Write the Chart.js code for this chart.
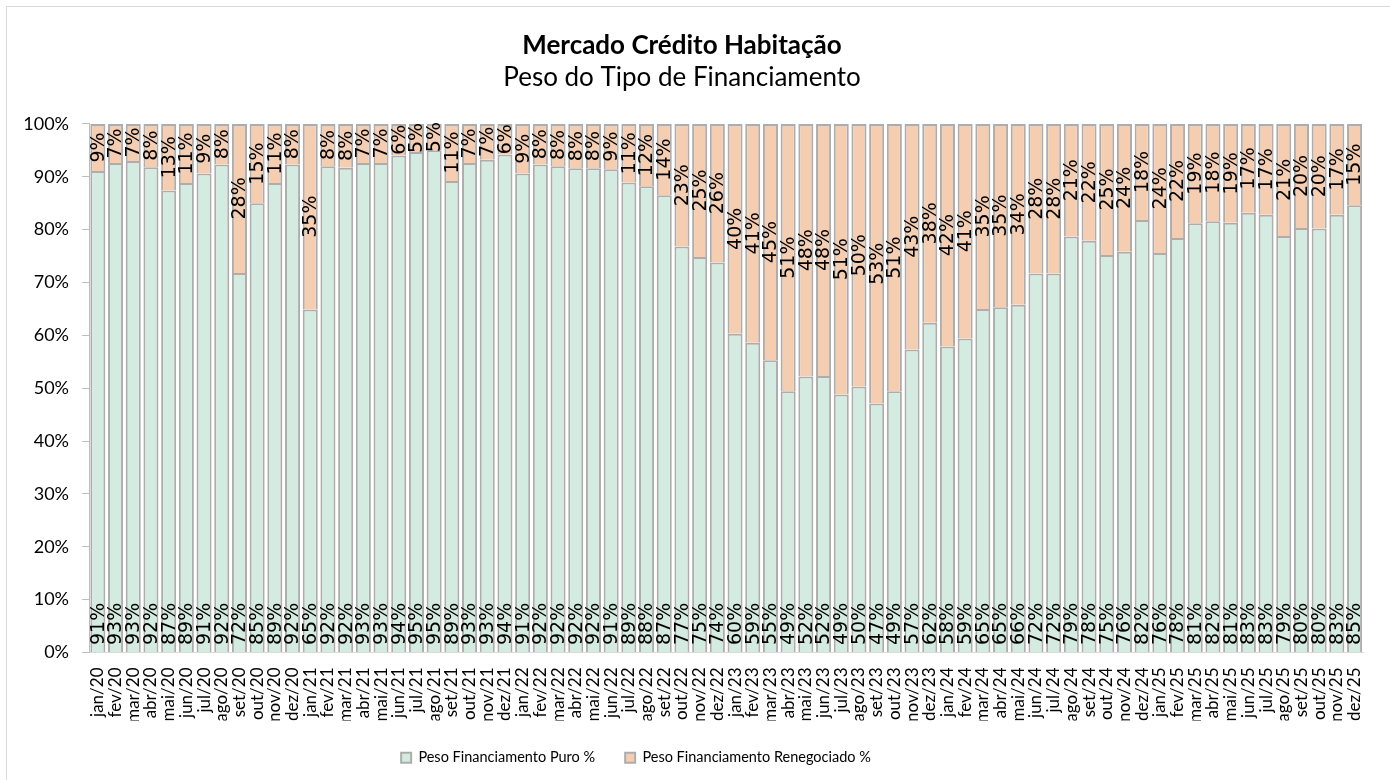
<!DOCTYPE html>
<html>
<head>
<meta charset="utf-8">
<title>Mercado Crédito Habitação</title>
<script src="https://cdn.jsdelivr.net/npm/chart.js@4.4.1/dist/chart.umd.min.js"></script>
<style>
  html, body { margin: 0; padding: 0; background: #fff; }
  #wrap { position: relative; width: 1390px; height: 780px; }
</style>
</head>
<body>
<div id="wrap"><canvas id="myChart" width="1390" height="780"></canvas></div>
<script>
// Months shown on the x axis
const months = [
    'jan/20', 'fev/20', 'mar/20', 'abr/20', 'mai/20', 'jun/20', 'jul/20', 'ago/20', 'set/20', 'out/20', 'nov/20', 'dez/20',
    'jan/21', 'fev/21', 'mar/21', 'abr/21', 'mai/21', 'jun/21', 'jul/21', 'ago/21', 'set/21', 'out/21', 'nov/21', 'dez/21',
    'jan/22', 'fev/22', 'mar/22', 'abr/22', 'mai/22', 'jun/22', 'jul/22', 'ago/22', 'set/22', 'out/22', 'nov/22', 'dez/22',
    'jan/23', 'fev/23', 'mar/23', 'abr/23', 'mai/23', 'jun/23', 'jul/23', 'ago/23', 'set/23', 'out/23', 'nov/23', 'dez/23',
    'jan/24', 'fev/24', 'mar/24', 'abr/24', 'mai/24', 'jun/24', 'jul/24', 'ago/24', 'set/24', 'out/24', 'nov/24', 'dez/24',
    'jan/25', 'fev/25', 'mar/25', 'abr/25', 'mai/25', 'jun/25', 'jul/25', 'ago/25', 'set/25', 'out/25', 'nov/25', 'dez/25'
];

// Peso Financiamento Puro %
const puro = [
    91.1, 92.6, 93.0, 91.8, 87.4, 88.8, 90.6, 92.3, 71.8, 85.0, 88.8, 92.3,
    64.9, 92.0, 91.7, 92.6, 92.6, 94.0, 94.7, 95.0, 89.2, 92.6, 93.2, 94.2,
    90.6, 92.3, 92.0, 91.6, 91.6, 91.4, 88.9, 88.2, 86.5, 76.8, 74.8, 73.8,
    60.3, 58.6, 55.3, 49.4, 52.2, 52.3, 48.8, 50.3, 47.1, 49.4, 57.3, 62.4,
    57.9, 59.4, 65.0, 65.3, 65.8, 71.7, 71.7, 78.7, 77.9, 75.2, 75.8, 81.8,
    75.6, 78.4, 81.2, 81.6, 81.3, 83.2, 82.8, 78.8, 80.3, 80.2, 82.8, 84.6
];

// Peso Financiamento Renegociado %
const renegociado = [
    8.9, 7.4, 7.0, 8.2, 12.6, 11.2, 9.4, 7.7, 28.2, 15.0, 11.2, 7.7,
    35.1, 8.0, 8.3, 7.4, 7.4, 6.0, 5.3, 5.0, 10.8, 7.4, 6.8, 5.8,
    9.4, 7.7, 8.0, 8.4, 8.4, 8.6, 11.1, 11.8, 13.5, 23.2, 25.2, 26.2,
    39.7, 41.4, 44.7, 50.6, 47.8, 47.7, 51.2, 49.7, 52.9, 50.6, 42.7, 37.6,
    42.1, 40.6, 35.0, 34.7, 34.2, 28.3, 28.3, 21.3, 22.1, 24.8, 24.2, 18.2,
    24.4, 21.6, 18.8, 18.4, 18.7, 16.8, 17.2, 21.2, 19.7, 19.8, 17.2, 15.4
];

// Y axis ticks
const yTicks = [0, 10, 20, 30, 40, 50, 60, 70, 80, 90, 100];

const textFont = 'Lato';
const labelFont = '19px "DejaVu Sans"';

// Draws the rotated percentage labels inside the bars
const barLabels = {
    id: 'barLabels',
    afterDatasetsDraw(chart) {
        const ctx = chart.ctx;
        ctx.save();
        ctx.font = labelFont;
        ctx.fillStyle = '#000';
        chart.data.datasets.forEach((ds, di) => {
            const meta = chart.getDatasetMeta(di);
            meta.data.forEach((bar, i) => {
                const txt = Math.round(ds.data[i]) + '%';
                ctx.save();
                if (di === 0) {
                    // inside base
                    ctx.translate(bar.x, bar.base - 7);
                    ctx.textAlign = 'left';
                } else {
                    // centered in the segment
                    ctx.translate(bar.x, (bar.y + bar.base) / 2);
                    ctx.textAlign = 'center';
                }
                ctx.rotate(-Math.PI / 2);
                ctx.textBaseline = 'middle';
                ctx.fillText(txt, 0, 1);
                ctx.restore();
            });
        });
        ctx.restore();
    }
};

// Light frame around the chart; titles and legend nudged left like the original
const frame = {
    id: 'frame',
    afterLayout(chart) {
        chart.boxes.forEach(box => {
            if (box === chart.legend) {
                box.right -= 112;
            } else if (box.options && box.options.text !== undefined && box.position === 'top') {
                box.left -= 10;
                box.right -= 10;
            }
        });
    },
    beforeDraw(chart) {
        const ctx = chart.ctx;
        ctx.save();
        ctx.fillStyle = '#fff';
        ctx.fillRect(0, 0, chart.width, chart.height);
        ctx.strokeStyle = '#d9d9d9';
        ctx.lineWidth = 1;
        ctx.strokeRect(6.5, 6.5, chart.width + 10, chart.height + 10);
        ctx.restore();
    }
};

const ctx = document.getElementById('myChart').getContext('2d');
const chart = new Chart(ctx, {
    type: 'bar',
    data: {
        labels: months,
        datasets: [
            {
                label: 'Peso Financiamento Puro %',
                data: puro,
                backgroundColor: '#d3ebe0',
                borderColor: '#adadad',
                borderWidth: 2,
                barPercentage: 0.85,
                categoryPercentage: 1
            },
            {
                label: 'Peso Financiamento Renegociado %',
                data: renegociado,
                backgroundColor: '#f5cdb0',
                borderColor: '#adadad',
                borderWidth: 2,
                barPercentage: 0.85,
                categoryPercentage: 1
            }
        ]
    },
    options: {
        responsive: false,
        animation: false,
        layout: {
            padding: { top: 30, right: 6, bottom: 5, left: 0 }
        },
        scales: {
            x: {
                stacked: true,
                grid: { display: false, drawTicks: false },
                border: { display: true, color: '#d9d9d9', width: 1 },
                ticks: {
                    autoSkip: false,
                    maxRotation: 90,
                    minRotation: 90,
                    padding: 15,
                    color: '#000',
                    font: { family: textFont, size: 17 }
                },
                afterFit(scale) { scale.height = 68; }
            },
            y: {
                stacked: true,
                min: 0,
                max: 100,
                afterBuildTicks(scale) {
                    scale.ticks = yTicks.map(v => ({ value: v }));
                },
                grid: { drawOnChartArea: false, drawTicks: true, tickLength: 7, color: '#bfbfbf' },
                border: { display: true, color: '#bfbfbf', width: 1 },
                ticks: {
                    padding: 13,
                    color: '#000',
                    font: { family: textFont, size: 18 },
                    callback: v => v + '%'
                },
                afterFit(scale) { scale.width = 89; }
            }
        },
        plugins: {
            title: {
                display: true,
                text: 'Mercado Crédito Habitação',
                color: '#000',
                font: { family: textFont, size: 26, weight: 'bold' },
                padding: { top: 0, bottom: 0 }
            },
            subtitle: {
                display: true,
                text: 'Peso do Tipo de Financiamento',
                color: '#000',
                font: { family: textFont, size: 26, weight: 'normal' },
                padding: { top: 1, bottom: 30.5 }
            },
            legend: {
                position: 'bottom',
                labels: {
                    boxWidth: 10,
                    boxHeight: 10,
                    padding: 30,
                    color: '#000',
                    font: { family: textFont, size: 14.5 }
                }
            },
            tooltip: { enabled: false }
        }
    },
    plugins: [frame, barLabels]
});
</script>
</body>
</html>
